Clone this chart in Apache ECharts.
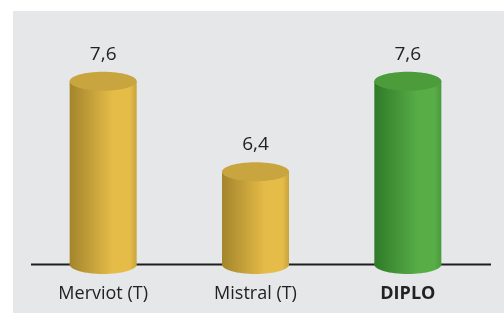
<!DOCTYPE html>
<html>
<head>
<meta charset="utf-8">
<script src="https://cdn.jsdelivr.net/npm/echarts@6/dist/echarts.min.js"></script>
<style>
  html, body { margin: 0; padding: 0; background: #fff; }
  #main { width: 504px; height: 313px; }
</style>
</head>
<body>
<div id="main"></div>
<script>
var categories = ['Merviot (T)', 'Mistral (T)', 'DIPLO'];
var values = [7.6, 6.4, 7.6];
var highlight = [false, false, true];

var gold = { top: '#c9a540', left: '#a3852c', mid: '#e6bc48', right: '#c8a43e' };
var green = { top: '#4c9c3c', left: '#2f7a28', mid: '#58ad47', right: '#4a9a3a' };

var myChart = echarts.init(document.getElementById('main'));

function renderCylinder(params, api) {
  var idx = params.dataIndex;
  var top = api.coord([api.value(0), api.value(1)]);
  var base = api.coord([api.value(0), 5.17]);
  var rx = 33.5, ry = 9.5;
  var c = highlight[idx] ? green : gold;
  var bodyFill = new echarts.graphic.LinearGradient(0, 0, 1, 0, [
    { offset: 0, color: c.left },
    { offset: 0.65, color: c.mid },
    { offset: 0.9, color: c.mid },
    { offset: 1, color: c.right }
  ]);
  var label = String(api.value(1)).replace('.', ',');
  return {
    type: 'group',
    children: [
      { type: 'ellipse', shape: { cx: top[0], cy: base[1], rx: rx, ry: ry }, style: { fill: bodyFill } },
      { type: 'rect', shape: { x: top[0] - rx, y: top[1], width: rx * 2, height: base[1] - top[1] }, style: { fill: bodyFill } },
      { type: 'ellipse', shape: { cx: top[0], cy: top[1], rx: rx, ry: ry }, style: { fill: c.top } },
      { type: 'text', x: top[0], y: top[1] - 27, style: {
          text: label, fill: '#222', font: '19px "Open Sans"', align: 'center', verticalAlign: 'middle' } }
    ]
  };
}

var option = {
  animation: false,
  backgroundColor: '#fff',
  graphic: [
    { type: 'rect', z: -10, shape: { x: 13, y: 11, width: 491, height: 302 }, style: { fill: '#e6e7e8' } },
    { type: 'line', z: 1, shape: { x1: 31, y1: 264.5, x2: 491, y2: 264.5 }, style: { stroke: '#1e1e1e', lineWidth: 2 } }
  ],
  grid: { left: 27, right: 20, top: 51, bottom: 48.5 },
  xAxis: {
    type: 'category',
    data: categories,
    axisLine: { show: false },
    axisTick: { show: false },
    axisLabel: {
      margin: 20,
      fontFamily: 'Open Sans',
      fontSize: 18,
      color: '#222',
      formatter: function (v, i) { return highlight[i] ? '{b|' + v + '}' : v; },
      rich: { b: { fontWeight: 'bold', fontFamily: 'Open Sans', fontSize: 18, color: '#222' } }
    }
  },
  yAxis: { type: 'value', min: 5.17, max: 8, show: false, splitLine: { show: false } },
  series: [{
    type: 'custom',
    renderItem: renderCylinder,
    encode: { x: 0, y: 1 },
    z: 5,
    data: values.map(function (v, i) { return [i, v]; })
  }]
};

myChart.setOption(option);
</script>
</body>
</html>
